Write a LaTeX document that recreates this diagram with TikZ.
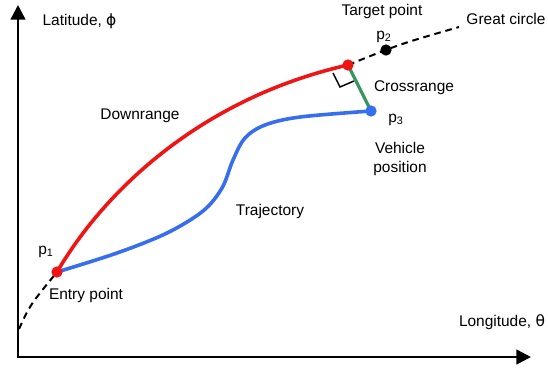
\documentclass[tikz,border=0pt]{standalone}
\usepackage{fontspec}
\setmainfont{Liberation Sans}
\newfontfamily\greekfont{DejaVu Sans}
\usepackage{xcolor}
\definecolor{trajblue}{RGB}{55, 110, 240}
\definecolor{crossgreen}{RGB}{55, 150, 95}
\definecolor{rangered}{RGB}{240, 20, 20}
\usetikzlibrary{
    arrows.meta,
    positioning,
    calc
}

\begin{document}
\begin{tikzpicture}[
    x=0.75pt, y=-0.75pt,
    >={Triangle[length=11pt, width=11pt]},
    every node/.style={font=\fontsize{11.6}{14.2}\selectfont, inner sep=1pt},
    every text node part/.style={align=center},
    axis/.style={line width=1.9pt, <->},
    gcircle/.style={line width=1.5pt, dash pattern=on 5pt off 3.6pt},
    downrange/.style={draw=rangered, line width=2.7pt},
    traj/.style={draw=trajblue, line width=2.7pt},
    crossline/.style={draw=crossgreen, line width=2.4pt},
    rightang/.style={line width=1.1pt},
    dot/.style={circle, inner sep=0pt, minimum size=8.5pt}
]
\useasboundingbox (0,0) rectangle (548,369);

% ==================== AXES ====================
\coordinate (origin) at (18,357);
\coordinate (ytip) at (18,5);
\coordinate (xtip) at (531,357);
\draw[axis] (ytip) -- (origin) -- (xtip);

\node[anchor=west] (lat) at (41,21) {Latitude, {\greekfont ϕ}};
\node (lon) at (502,322) {Longitude, {\greekfont θ}};

% ==================== KEY POINTS ====================
\coordinate (p1) at (57,272);
\coordinate (tgt) at (348,65);
\coordinate (p2) at (386,50);
\coordinate (p3) at (371,111);
\coordinate (gcstart) at (19,329);
\coordinate (gcend) at (459,27);

% ==================== GREAT CIRCLE ====================
\draw[gcircle] (gcstart) .. controls (30,305) .. (p1);
\draw[gcircle] (tgt) .. controls (400,44) .. (gcend);

% ==================== RANGES & TRAJECTORY ====================
\draw[traj] plot[smooth, tension=0.55] coordinates {(p1) (117,253) (167,233) (203,211) (222,188) (233,160) (245,138) (265,125) (300,117) (p3)};
\draw[downrange] (p1) .. controls (105,190) and (202,98) .. (tgt);
\draw[crossline] (tgt) -- (p3);
\draw[rightang] (333,73) -- (340,87) -- (354,81);

% ==================== DOTS ====================
\node[dot, fill=rangered] (p1dot) at (p1) {};
\node[dot, fill=rangered] (tgtdot) at (tgt) {};
\node[dot, fill=black] (p2dot) at (p2) {};
\node[dot, fill=trajblue] (p3dot) at (p3) {};

% ==================== LABELS ====================
\node (p1lbl) at (46,252) {p\textsubscript{1}};
\node (entry) at (86,295) {Entry point};
\node (p2lbl) at (384,37) {p\textsubscript{2}};
\node (target) at (382,11) {Target point};
\node (great) at (506,19) {Great circle};
\node (cross) at (414,88) {Crossrange};
\node (p3lbl) at (396,120) {p\textsubscript{3}};
\node (vehicle) at (400,159) {Vehicle\\position};
\node (down) at (140,116) {Downrange};
\node (trajlbl) at (270,211) {Trajectory};

\end{tikzpicture}
\end{document}
